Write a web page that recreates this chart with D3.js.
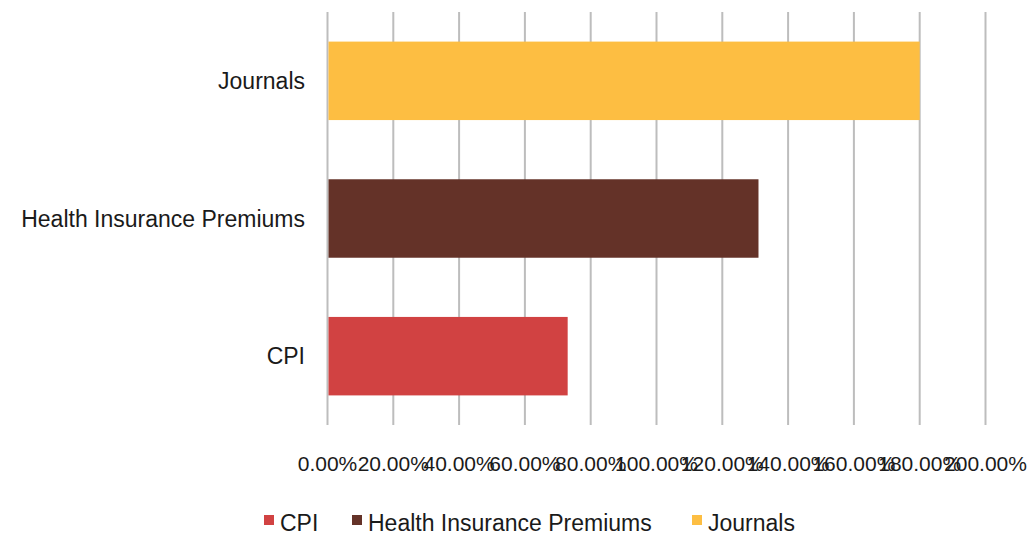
<!DOCTYPE html>
<html>
<head>
<meta charset="utf-8">
<script src="https://cdn.jsdelivr.net/npm/d3@7"></script>
<style>
  body { margin: 0; background: #fff; }
  text { font-family: "Liberation Sans", Arial, sans-serif; fill: #1a1a1a; }
</style>
</head>
<body>
<div id="chart"></div>
<script>
// data
const categories = ["Journals", "Health Insurance Premiums", "CPI"]
const values = [180, 131, 73]
const colors = ["#fdbe42", "#643228", "#d14242"]
const ticks = [0, 20, 40, 60, 80, 100, 120, 140, 160, 180, 200]
const legendItems = ["CPI", "Health Insurance Premiums", "Journals"]
const legendColors = ["#d14242", "#643228", "#fdbe42"]

const W = 1032, H = 533
const svg = d3.select("#chart").append("svg").attr("width", W).attr("height", H)

const x = d3.scaleLinear().domain([0, 200]).range([327.5, 985.5])
const y = d3.scaleBand().domain(categories).range([12, 425]).paddingInner(0.43).paddingOuter(0.215)

//gridlines
svg.append("g").selectAll("line").data(ticks).join("line")
    .attr("x1", d => x(d)).attr("x2", d => x(d))
    .attr("y1", 12).attr("y2", 425)
    .attr("stroke", "#bdbdbd").attr("stroke-width", 2)

//bars
svg.append("g").selectAll("rect").data(values).join("rect")
    .attr("x", x(0) + 1)
    .attr("y", (d, i) => y(categories[i]))
    .attr("width", d => x(d) - x(0) - 1)
    .attr("height", y.bandwidth())
    .attr("fill", (d, i) => colors[i])

//category labels
svg.append("g").selectAll("text").data(categories).join("text")
    .attr("x", 305)
    .attr("y", d => y(d) + y.bandwidth() / 2)
    .attr("dy", "0.35em")
    .attr("text-anchor", "end")
    .style("font-size", "23px")
    .text(d => d)

//x tick labels (they overlap in the original too)
svg.append("g").selectAll("text").data(ticks).join("text")
    .attr("x", d => x(d))
    .attr("y", 471)
    .attr("text-anchor", "middle")
    .style("font-size", "21px")
    .text(d => d.toFixed(2) + "%")

//legend
const legendX = [264, 352, 692]
const lg = svg.append("g").selectAll("g").data(legendItems).join("g")
    .attr("transform", (d, i) => `translate(${legendX[i]},523)`)
lg.append("rect").attr("x", 0).attr("y", -8).attr("width", 10).attr("height", 10)
    .attr("fill", (d, i) => legendColors[i])
lg.append("text").attr("x", 16).attr("dy", "0.35em").style("font-size", "23px").text(d => d)
</script>
</body>
</html>
